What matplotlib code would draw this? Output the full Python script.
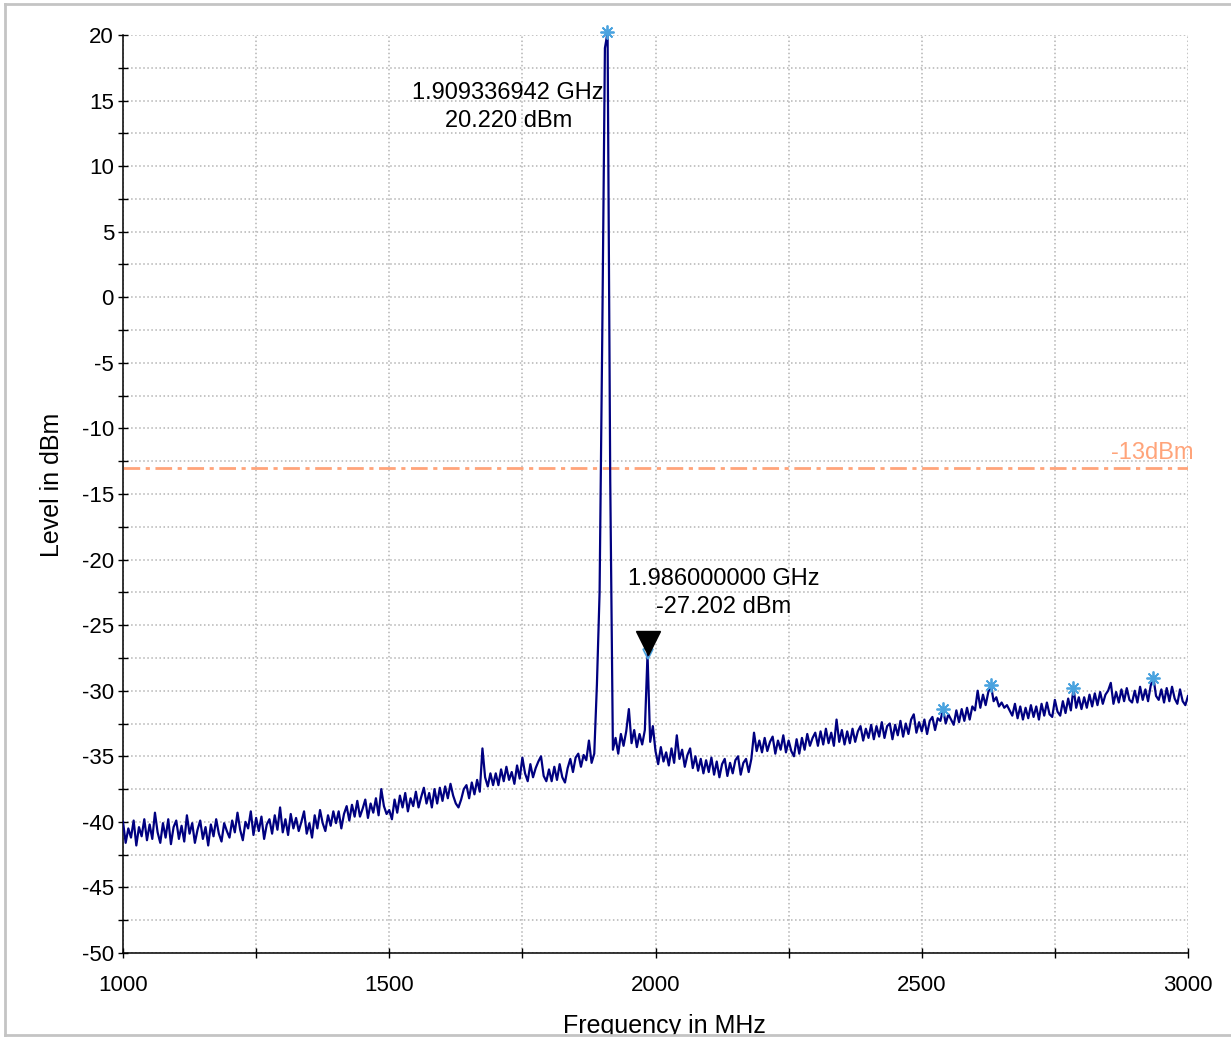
import numpy as np
import matplotlib
matplotlib.use('Agg')
import matplotlib.pyplot as plt
from matplotlib.lines import Line2D
from matplotlib.transforms import ScaledTranslation

plt.rcParams['font.family'] = ['Liberation Sans', 'DejaVu Sans']
plt.rcParams['axes.unicode_minus'] = False

# spectrum trace, 1000..3000 MHz in 5 MHz steps
freq_start, freq_stop, freq_step = 1000, 3000, 5
level_dbm = [
    # 1000-1095
    -40.0, -41.6, -40.5, -41.2, -39.9, -41.8, -40.4, -41.1, -39.8, -41.4,
    -40.2, -41.3, -39.3, -40.8, -41.6, -40.1, -41.2, -39.8, -41.7, -40.4,
    # 1100-1195
    -39.9, -41.3, -40.3, -41.5, -39.5, -40.9, -40.1, -41.6, -40.6, -39.9,
    -41.3, -40.4, -41.8, -40.2, -41.1, -39.8, -40.9, -41.5, -40.1, -40.7,
    # 1200-1295
    -41.2, -39.9, -40.8, -39.3, -40.6, -41.4, -40.0, -40.5, -39.2, -41.0,
    -39.7, -40.7, -39.6, -41.3, -40.2, -39.8, -40.9, -39.5, -40.6, -38.9,
    # 1300-1395
    -40.8, -39.8, -41.0, -39.4, -40.5, -39.7, -40.7, -40.0, -39.2, -40.9,
    -40.1, -41.2, -39.5, -40.5, -39.1, -40.1, -40.7, -39.5, -40.3, -39.2,
    # 1400-1495
    -40.1, -39.2, -40.5, -39.4, -38.8, -39.9, -38.7, -39.6, -38.4, -39.6,
    -39.0, -38.3, -39.7, -38.6, -39.3, -38.2, -39.5, -37.5, -38.8, -39.4,
    # 1500-1595
    -39.1, -39.8, -38.3, -39.3, -38.0, -38.9, -37.8, -39.2, -38.2, -38.8,
    -37.7, -38.9, -38.1, -37.4, -38.6, -37.8, -38.9, -37.5, -38.6, -37.4,
    # 1600-1695
    -38.4, -37.3, -38.2, -37.1, -38.0, -38.6, -38.9, -38.3, -37.5, -37.2,
    -38.2, -37.0, -37.9, -36.8, -37.7, -34.4, -36.6, -37.3, -36.3, -37.2,
    # 1700-1795
    -36.3, -37.2, -36.0, -36.9, -35.8, -36.8, -36.2, -37.1, -35.7, -36.7,
    -35.1, -36.3, -36.9, -35.6, -36.6, -35.9, -35.4, -35.0, -36.5, -36.9,
    # 1800-1895
    -36.0, -36.9, -35.8, -36.8, -35.6, -36.6, -37.0, -35.9, -35.2, -36.2,
    -35.1, -34.8, -35.8, -34.9, -35.3, -33.8, -35.5, -34.8, -29.5, -22.5,
    # 1900-1995
    -3.0, 19.0, 20.2, -14.0, -34.5, -33.6, -34.8, -33.3, -34.2, -33.1,
    -31.4, -34.0, -33.0, -34.3, -33.3, -34.1, -33.0, -27.2, -33.9, -32.7,
    # 2000-2095
    -34.6, -35.6, -34.3, -35.4, -34.7, -35.7, -34.4, -35.5, -33.4, -35.2,
    -34.5, -35.8, -34.9, -34.4, -35.9, -35.0, -36.1, -35.2, -36.3, -35.3,
    # 2100-2195
    -36.2, -35.1, -36.4, -35.4, -36.6, -35.6, -35.2, -36.5, -35.5, -36.3,
    -35.3, -35.0, -36.4, -35.5, -35.2, -36.2, -35.2, -33.2, -34.6, -33.8,
    # 2200-2295
    -34.7, -33.6, -34.6, -33.9, -33.5, -34.8, -33.8, -34.5, -33.4, -34.7,
    -33.8, -34.6, -35.0, -33.7, -34.8, -33.6, -34.5, -33.3, -34.2, -33.6,
    # 2300-2395
    -33.2, -34.2, -33.1, -34.1, -32.9, -34.0, -33.2, -34.2, -32.2, -33.9,
    -33.0, -34.1, -33.1, -34.0, -32.9, -33.9, -33.1, -32.7, -33.8, -32.9,
    # 2400-2495
    -33.6, -32.6, -33.7, -32.7, -33.5, -32.4, -33.6, -32.7, -32.5, -33.7,
    -32.6, -33.4, -32.3, -33.5, -32.5, -33.3, -32.2, -31.8, -33.2, -32.4,
    # 2500-2595
    -33.1, -32.2, -33.3, -32.3, -32.0, -33.0, -32.1, -32.3, -31.4, -32.5,
    -31.8, -32.2, -32.6, -31.5, -32.4, -31.4, -32.3, -31.3, -32.2, -31.2,
    # 2600-2695
    -31.5, -30.0, -31.3, -30.3, -31.1, -30.1, -29.6, -30.8, -30.5, -31.2,
    -30.9, -31.3, -31.1, -31.5, -31.9, -31.0, -32.1, -31.2, -32.2, -31.3,
    # 2700-2795
    -32.1, -31.1, -32.0, -31.2, -32.2, -31.0, -31.9, -30.9, -31.8, -32.0,
    -30.7, -31.6, -31.9, -30.8, -31.7, -30.6, -31.5, -29.8, -31.3, -30.5,
    # 2800-2895
    -31.4, -30.5, -31.3, -30.3, -31.2, -30.2, -31.1, -30.1, -31.0, -30.3,
    -30.0, -29.4, -31.0, -30.1, -30.9, -29.9, -30.8, -29.8, -30.7, -30.9,
    # 2900-2995
    -30.0, -30.9, -29.7, -30.7, -29.9, -30.8, -29.6, -29.0, -30.4, -30.7,
    -29.9, -30.9, -29.8, -30.8, -29.7, -30.6, -31.0, -29.9, -30.8, -31.1,
    # 3000
    -30.4,
]

# markers
peak_freq, peak_level = 1909.336942, 20.220
m2_freq, m2_level = 1986.0, -27.202
spur_freqs = [2539.0, 2629.5, 2783.5, 2935.0]
spur_levels = [-31.4, -29.6, -29.8, -29.0]
limit_dbm = -13

trace_col = '#000080'
marker_col = '#4aa3df'
limit_col = '#ffa47a'

freq = np.arange(freq_start, freq_stop + 1, freq_step)

fig = plt.figure(figsize=(12.31, 10.37), dpi=100)
W, H = 1231, 1037
ax = fig.add_axes([123 / W, 1 - 953 / H, (1188 - 123) / W, (953 - 35) / H])

ax.plot(freq, level_dbm, color=trace_col, lw=1.6, zorder=3)
ax.axhline(limit_dbm, color=limit_col, lw=2, ls=(0, (6, 2, 1.5, 2)), zorder=2)
ax.text(3000, limit_dbm + 0.3, '%ddBm' % limit_dbm, color=limit_col,
        fontsize=17, ha='right', va='bottom', clip_on=False,
        transform=ax.transData + ScaledTranslation(6 / 100, 0, fig.dpi_scale_trans))

star = (8, 2, 0)
ax.plot([peak_freq], [peak_level], ls='none', marker=star, ms=10, mew=1.3,
        mec=marker_col, clip_on=False, zorder=5)
ax.plot(spur_freqs, spur_levels, ls='none', marker=star, ms=10, mew=1.3,
        mec=marker_col, zorder=5)
ax.plot([m2_freq], [m2_level], ls='none', marker='v', ms=7, mfc='none',
        mec=marker_col, mew=1.2, zorder=5)
ax.plot([m2_freq], [m2_level], ls='none', marker='v', ms=17, color='black',
        transform=ax.transData + ScaledTranslation(0, 11 / 100, fig.dpi_scale_trans),
        zorder=6)

ax.annotate('%.9f GHz\n%.3f dBm' % (peak_freq / 1000, peak_level),
            xy=(peak_freq, peak_level), xytext=(-99, -75),
            textcoords='offset pixels', ha='center', va='center',
            fontsize=17, linespacing=1.32, annotation_clip=False)
ax.annotate('%.9f GHz\n%.3f dBm' % (m2_freq / 1000, m2_level),
            xy=(m2_freq, m2_level), xytext=(76, 61),
            textcoords='offset pixels', ha='center', va='center',
            fontsize=17, linespacing=1.32, annotation_clip=False)

ax.set_xlim(1000, 3000)
ax.set_ylim(-50, 20)
ax.set_xticks(np.arange(1000, 3001, 500))
ax.set_xticks(np.arange(1000, 3001, 250), minor=True)
ax.set_yticks(np.arange(-50, 21, 5))
ax.set_yticks(np.arange(-50, 21, 2.5), minor=True)
ax.tick_params(which='both', direction='inout', length=7, width=1,
               labelsize=16)
ax.tick_params(axis='x', pad=12)
ax.tick_params(axis='y', pad=3)
ax.grid(True, which='both', color='#b4b4b4', ls=':', lw=1.1)
for s in ('top', 'right'):
    ax.spines[s].set_visible(False)
for s in ('left', 'bottom'):
    ax.spines[s].set_linewidth(1.1)

fig.text(52 / W, 1 - 485 / H, 'Level in dBm', rotation=90, fontsize=18,
         ha='center', va='center')
fig.text(664 / W, 1 - 1033 / H, 'Frequency in MHz', fontsize=18,
         ha='center', va='baseline', zorder=1)

# gray frame and clipped bottom edge
fig.patches.append(plt.Rectangle((0, 0), 1, 1 - 1036 / H, transform=fig.transFigure,
                                 color='white', zorder=5))
for xs, ys in (([5, 5], [4, 1035]), ([5, W], [4, 4]), ([5, W], [1035, 1035])):
    fig.lines.append(Line2D([x / W for x in xs], [1 - y / H for y in ys],
                            transform=fig.transFigure, color='#c4c4c4',
                            lw=2, zorder=6))

fig.savefig('out.png', dpi=100)
